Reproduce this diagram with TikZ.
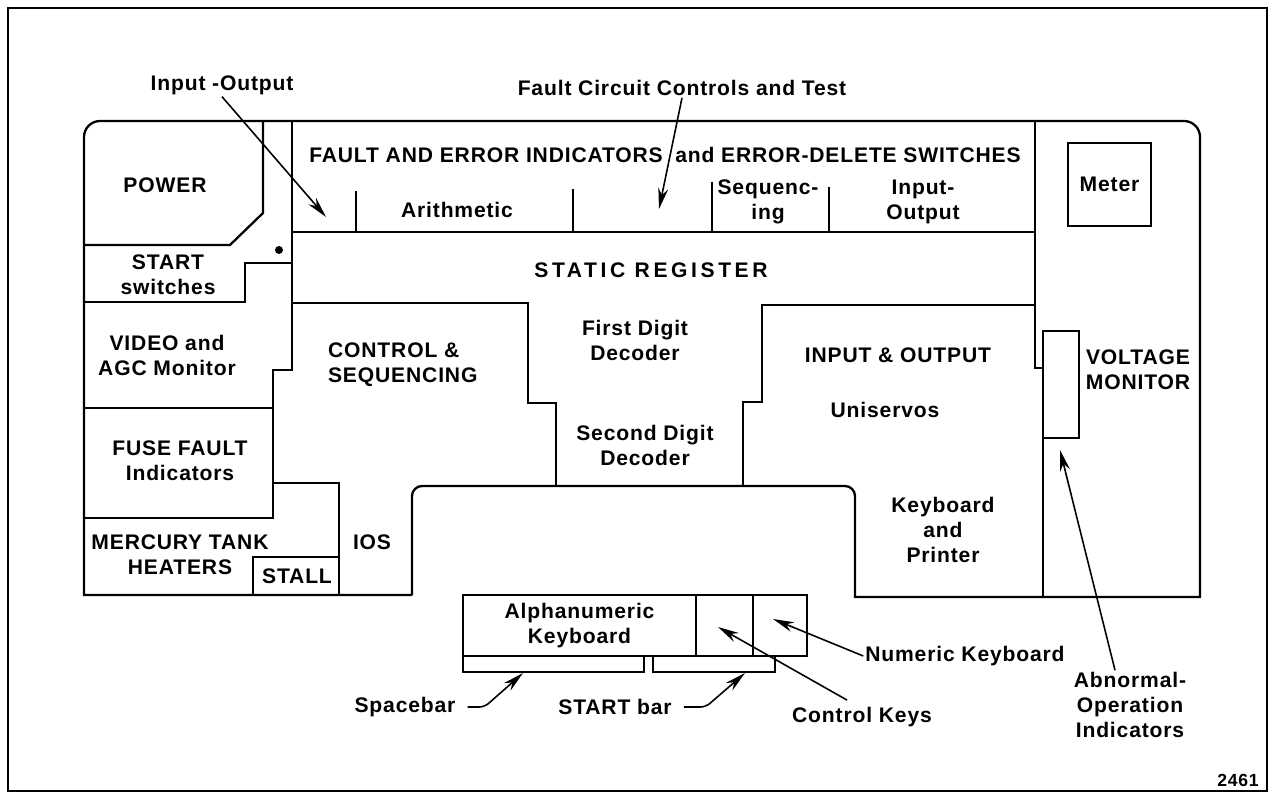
\documentclass[tikz,border=0pt]{standalone}
\usepackage{fontspec}
\setmainfont{Liberation Sans}[LetterSpace=4]
\newfontfamily\spreadfont{Liberation Sans}[LetterSpace=17]
\usetikzlibrary{arrows.meta}
\newcommand\platefont{\fontsize{12}{14.2}\selectfont\bfseries}
\tikzset{
  wall/.style={line width=1.3pt,line join=miter},
  panel/.style={draw,line width=1.3pt,inner sep=0pt},
  lbl/.style={font=\platefont,align=center,inner sep=1pt},
  arr/.style={-{Stealth[length=0.42cm,width=0.2cm]},line width=0.9pt}
}

\begin{document}
\begin{tikzpicture}[x=0.02cm,y=-0.02cm]
  \useasboundingbox (0,0) rectangle (1272,795);
  \draw[line width=1.1pt] (8,8) rectangle (1267,791);

  % console outline
  \draw[wall] (412,595) -- (84,595) [rounded corners=0.32cm] -- (84,121) -- (1200,121)
    [sharp corners] -- (1200,597) -- (855,597) [rounded corners=0.2cm] -- (855,486) -- (412,486)
    [sharp corners] -- (412,595);

  % left column
  \draw[wall] (263,121) -- (263,213) -- (230,245) -- (84,245);
  \draw[wall] (84,302) -- (245,302) -- (245,263) -- (292,263);
  \draw[wall] (292,121) -- (292,370) -- (273,370) -- (273,518) -- (84,518);
  \draw[wall] (84,408) -- (273,408);
  \draw[wall] (273,483) -- (339,483) -- (339,595);
  \draw[wall] (253,595) -- (253,557) -- (339,557);
  \fill (279,250) circle (0.08cm);

  % fault panel and register
  \draw[wall] (292,232) -- (1035,232);
  \foreach \x/\y in {356/191,573/189,712/182,829/187}
    \draw[wall] (\x,\y) -- (\x,232);
  \draw[wall] (292,303) -- (528,303) -- (528,403) -- (556,403) -- (556,486);
  \draw[wall] (743,486) -- (743,402) -- (762,402) -- (762,305) -- (1035,305);

  % right column
  \draw[wall] (1035,121) -- (1035,368) -- (1043,368) -- (1043,597);
  \node[panel,minimum width=1.66cm,minimum height=1.66cm,font=\platefont] (meter) at (1109.5,184.5) {Meter};
  \node[panel,minimum width=0.72cm,minimum height=2.14cm] (voltind) at (1061,384.5) {};

  % keyboard
  \node[panel,minimum width=4.66cm,minimum height=1.22cm,lbl,inner sep=0pt] (alphakb) at (579.5,625.5) {Alphanumeric\\Keyboard};
  \node[panel,minimum width=1.14cm,minimum height=1.22cm] (ctrlkey) at (724.5,625.5) {};
  \node[panel,minimum width=1.08cm,minimum height=1.22cm] (numkey) at (780,625.5) {};
  \node[panel,minimum width=3.62cm,minimum height=0.32cm] (spacebar) at (553.5,664) {};
  \node[panel,minimum width=2.44cm,minimum height=0.32cm] (startbar) at (714,664) {};

  % panel labels
  \node[lbl] (faultind) at (665,155) {FAULT AND ERROR INDICATORS\hspace{0.25cm}and ERROR-DELETE SWITCHES};
  \node[lbl] (arith) at (457,210) {Arithmetic};
  \node[lbl] (seqncg) at (768,202) {Sequenc-\\ing};
  \node[lbl] (faultio) at (923,202) {Input-\\Output};
  \node[lbl] (power) at (165,185) {POWER};
  \node[lbl] (startsw) at (168,275) {START\\switches};
  \node[lbl,font=\spreadfont\platefont] (staticreg) at (651,270) {STATIC REGISTER};
  \node[lbl] (video) at (167,355) {VIDEO and\\AGC Monitor};
  \node[lbl] (fuse) at (180,461) {FUSE FAULT\\Indicators};
  \node[lbl] (mercury) at (180,555) {MERCURY TANK\\HEATERS};
  \node[lbl] (stall) at (297,576) {STALL};
  \node[lbl] (ios) at (372,542) {IOS};
  \node[lbl,align=left,anchor=west] (ctrlseq) at (326,365) {CONTROL \&\\SEQUENCING};
  \node[lbl] (firstdec) at (635,340) {First Digit\\Decoder};
  \node[lbl] (seconddec) at (645,445) {Second Digit\\Decoder};
  \node[lbl] (inout) at (898,355) {INPUT \& OUTPUT};
  \node[lbl] (uniservos) at (885,410) {Uniservos};
  \node[lbl] (kbprinter) at (943,530) {Keyboard\\and\\Printer};
  \node[lbl] (voltmon) at (1138,370) {VOLTAGE\\MONITOR};

  % callouts
  \node[lbl] (lblio) at (222,85) {Input -Output};
  \node[lbl] (lblfc) at (682,88) {Fault Circuit Controls and Test};
  \node[lbl] (lblsp) at (405,707) {Spacebar};
  \node[lbl] (lblsb) at (615,707) {START bar};
  \node[lbl] (lblck) at (862,717) {Control Keys};
  \node[lbl] (lblnk) at (965,656) {Numeric Keyboard};
  \node[lbl] (lblab) at (1130,705) {Abnormal-\\Operation\\Indicators};
  \node[lbl,font=\fontsize{10}{12}\selectfont\bfseries] (fignum) at (1238,780) {2461};

  \coordinate (tipio) at (326,217);
  \coordinate (tipfc) at (659,209);
  \coordinate (tipsp) at (523,673);
  \coordinate (tipsb) at (745,673);
  \coordinate (tipck) at (718,627);
  \coordinate (tipnk) at (773,619);
  \coordinate (tipab) at (1060,450);

  \draw[arr] (lblio.south) -- (tipio);
  \draw[arr] (lblfc.south) -- (tipfc);
  \draw[arr,rounded corners=3pt] ([xshift=0.2cm]lblsp.east) -- ++(17,0) -- (tipsp);
  \draw[arr,rounded corners=3pt] ([xshift=0.2cm]lblsb.east) -- ++(22,0) -- (tipsb);
  \draw[arr] ([xshift=-0.3cm,yshift=0.1cm]lblck.north) -- (tipck);
  \draw[arr] (lblnk.west) -- (tipnk);
  \draw[arr] ([xshift=-0.3cm]lblab.north) -- (tipab);
\end{tikzpicture}
\end{document}
